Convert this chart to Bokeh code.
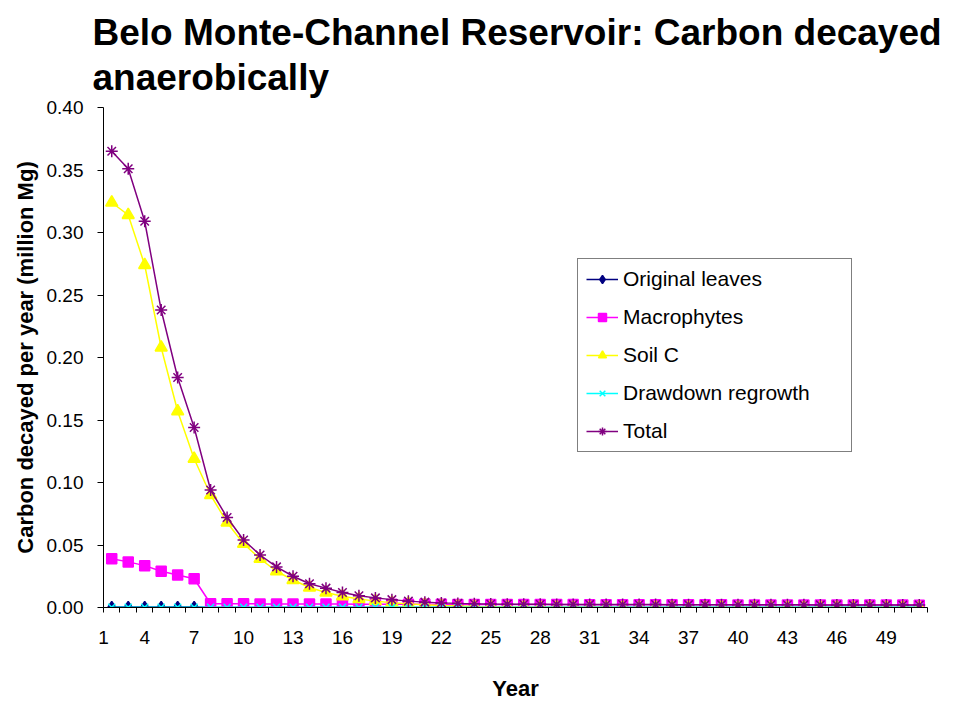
from bokeh.plotting import figure
from bokeh.models import (Range1d, FixedTicker, Legend, LegendItem,
                          ColumnDataSource, Title, NumeralTickFormatter)
from bokeh.embed import file_html
from bokeh.resources import INLINE

# ---- data ----
years = list(range(2, 52))
tick_years = [1.5] + list(range(4, 52, 3))
tick_labels = {1.5: "1"}
for t in range(4, 52, 3):
    tick_labels[t] = str(t)

original_leaves = [0.0005] * 6 + [0.0] * 44
macrophytes = [0.039, 0.0365, 0.0335, 0.029, 0.026, 0.023,
               0.0030, 0.0030, 0.0030, 0.0029, 0.0029, 0.0029, 0.0028, 0.0028,
               0.0028, 0.0027, 0.0027, 0.0027, 0.0026, 0.0026, 0.0026, 0.0025,
               0.0025, 0.0025, 0.0025, 0.0024, 0.0024, 0.0024, 0.0024, 0.0023,
               0.0023, 0.0023, 0.0023, 0.0022, 0.0022, 0.0022, 0.0022, 0.0022,
               0.0021, 0.0021, 0.0021, 0.0021, 0.0021, 0.0020, 0.0020, 0.0020,
               0.0020, 0.0020, 0.0020, 0.0019]
soil_c = [0.324, 0.314, 0.274, 0.208, 0.157, 0.119, 0.090, 0.068, 0.051, 0.039,
          0.029, 0.022, 0.016, 0.012, 0.009, 0.0068, 0.0051, 0.0038, 0.0029,
          0.0022, 0.0016, 0.0012, 0.0009, 0.0007, 0.0005, 0.0004, 0.0003,
          0.0003, 0.0002, 0.0002, 0.0002, 0.0001, 0.0001, 0.0001, 0.0001,
          0.0001, 0.0001, 0.0001, 0.0001, 0.0001, 0.0001, 0.0001, 0.0001,
          0.0001, 0.0001, 0.0001, 0.0001, 0.0001, 0.0001, 0.0001]
drawdown_regrowth = [0.0002] * 50
total = [0.365, 0.351, 0.309, 0.238, 0.184, 0.144, 0.094, 0.072, 0.054, 0.042,
         0.0325, 0.025, 0.019, 0.0155, 0.012, 0.0094, 0.0077, 0.0063, 0.0051,
         0.0043, 0.0037, 0.0033, 0.0030, 0.0028, 0.0027, 0.0026, 0.0026,
         0.0025, 0.0025, 0.0025, 0.0024, 0.0024, 0.0024, 0.0024, 0.0023,
         0.0023, 0.0023, 0.0023, 0.0022, 0.0022, 0.0022, 0.0022, 0.0022,
         0.0021, 0.0021, 0.0021, 0.0021, 0.0021, 0.0020, 0.0020]

series = [
    ("Original leaves", original_leaves, "#000080", "diamond", 11),
    ("Macrophytes", macrophytes, "#FF00FF", "square", 10),
    ("Soil C", soil_c, "#FFFF00", "triangle", 12),
    ("Drawdown regrowth", drawdown_regrowth, "#00FFFF", "x", 10),
    ("Total", total, "#800080", "asterisk", 12),
]

FONT = "Liberation Sans"

p = figure(width=945, height=704, output_backend="svg", toolbar_location=None,
           x_range=Range1d(1.5, 51.5), y_range=Range1d(0, 0.40),
           min_border_left=103, min_border_right=18, min_border_top=107,
           min_border_bottom=97)
p.title = Title(text="Belo Monte-Channel Reservoir: Carbon decayed\nanaerobically",
                text_font=FONT, text_font_size="37px", text_font_style="bold",
                align="left", offset=-11, text_color="black",
                text_line_height=1.1, standoff=18)
p.outline_line_color = None
p.grid.grid_line_color = None
p.background_fill_color = "white"
p.border_fill_color = "white"

items = []
for name, vals, color, marker, size in series:
    src = ColumnDataSource(dict(x=years, y=vals))
    ln = p.line("x", "y", source=src, line_color=color, line_width=1.5)
    sc = p.scatter("x", "y", source=src, marker=marker, size=size,
                   fill_color=color, line_color=color, line_width=1.5)
    items.append(LegendItem(label=name, renderers=[ln, sc]))

# axes
xa = p.xaxis[0]
xa.ticker = FixedTicker(ticks=tick_years,
                        minor_ticks=[y - 0.5 for y in years] + [years[-1] + 0.5])
xa.major_label_overrides = tick_labels
xa.major_tick_out = 0
xa.major_tick_in = 0
xa.minor_tick_out = 5
xa.minor_tick_in = 0
xa.axis_line_color = "black"
xa.minor_tick_line_color = "black"
xa.major_label_text_font = FONT
xa.major_label_text_font_size = "19px"
xa.major_label_text_color = "black"
xa.major_label_standoff = 18
xa.axis_label = "Year"
xa.axis_label_text_font = FONT
xa.axis_label_text_font_size = "22px"
xa.axis_label_text_font_style = "bold"
xa.axis_label_text_color = "black"
xa.axis_label_standoff = 29

ya = p.yaxis[0]
ya.ticker = FixedTicker(ticks=[0, 0.05, 0.10, 0.15, 0.20, 0.25, 0.30, 0.35, 0.40])
ya.formatter = NumeralTickFormatter(format="0.00")
ya.major_tick_out = 6
ya.major_tick_in = 0
ya.minor_tick_out = 0
ya.minor_tick_in = 0
ya.axis_line_color = "black"
ya.major_tick_line_color = "black"
ya.major_label_text_font = FONT
ya.major_label_text_font_size = "19px"
ya.major_label_text_color = "black"
ya.major_label_standoff = 14
ya.axis_label = "Carbon decayed per year (million Mg)"
ya.axis_label_text_font = FONT
ya.axis_label_text_font_size = "22px"
ya.axis_label_text_font_style = "bold"
ya.axis_label_text_color = "black"
ya.axis_label_standoff = 6

legend = Legend(items=items, location=(474, 155), padding=8, spacing=14,
                glyph_width=32, glyph_height=20, label_height=20,
                label_standoff=5, label_width=220,
                label_text_font=FONT, label_text_font_size="21px",
                label_text_color="black",
                border_line_color="black", border_line_width=1,
                background_fill_alpha=1, margin=0)
p.add_layout(legend)

open("out.html", "w").write(file_html(p, INLINE))
